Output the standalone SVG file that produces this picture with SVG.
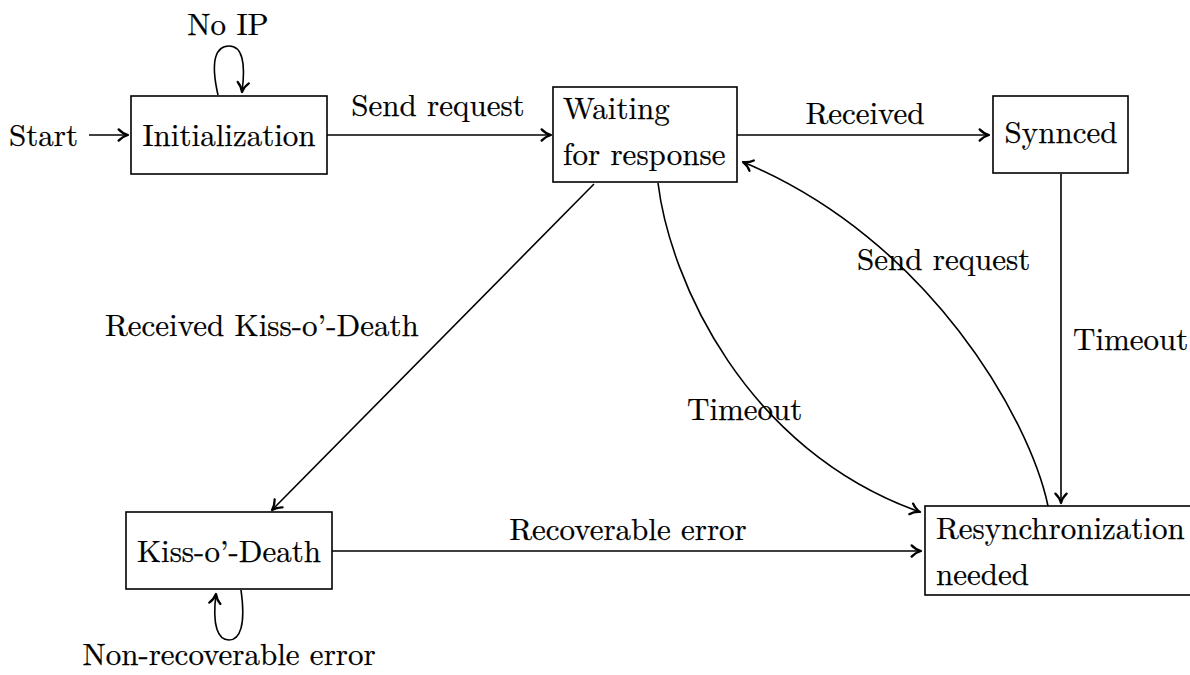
<svg xmlns="http://www.w3.org/2000/svg" width="1190" height="675" viewBox="0 0 1190 675">
<defs>
<style>
text{font-family:'Latin Modern Roman','DejaVu Serif',serif;font-size:31px;fill:#000;stroke:#000;stroke-width:0.25}
.box{fill:#fff;stroke:#000;stroke-width:1.6}
.c{text-anchor:middle}
.edge{fill:none;stroke:#000;stroke-width:1.6;marker-end:url(#arr)}
</style>
<marker id="arr" markerUnits="userSpaceOnUse" markerWidth="20" markerHeight="20" viewBox="-12 -8 16 16" refX="0" refY="0" orient="auto">
<path d="M-7.5,-4.5 C-5,-1.8 -2,-0.5 0,0 C-2,0.5 -5,1.8 -7.5,4.5" fill="none" stroke="#000" stroke-width="1.8" stroke-linecap="round" stroke-linejoin="round"/>
</marker>
</defs>
<rect width="1190" height="675" fill="#fff"/>
<g id="connectors">
<line class="edge" x1="89" y1="135" x2="128" y2="135"/>
<path class="edge" d="M218,95 C210,60 216,46 229,46 C242,46 246,62 242,92"/>
<line class="edge" x1="327" y1="135" x2="551" y2="135"/>
<line class="edge" x1="737" y1="135" x2="989" y2="135"/>
<line class="edge" x1="594" y1="184" x2="272" y2="510"/>
<path class="edge" d="M658,183 C670,280 745,450 920,512"/>
<path class="edge" d="M1048,506 C1030,420 930,240 743,162"/>
<line class="edge" x1="1061" y1="174" x2="1061" y2="503"/>
<line class="edge" x1="332" y1="551" x2="921" y2="551"/>
<path class="edge" d="M241,590 C246,625 240,640 229,640 C218,640 212,626 216,594"/>
</g>
<g id="labels">
<text x="43.5" y="146" class="c">Start</text>
<text x="228" y="35" class="c">No IP</text>
<text x="438" y="116" class="c">Send request</text>
<text x="865" y="124" class="c">Received</text>
<text x="105" y="336">Received Kiss-o’-Death</text>
<text x="857" y="270">Send request</text>
<text x="687" y="420">Timeout</text>
<text x="1073" y="350">Timeout</text>
<text x="628" y="540" class="c">Recoverable error</text>
<text x="229" y="665" class="c">Non-recoverable error</text>
</g>
<g id="initialization">
<rect class="box" x="131" y="96" width="196" height="78"/>
<text x="229" y="146" class="c">Initialization</text>
</g>
<g id="waiting">
<rect class="box" x="553" y="87" width="184" height="95"/>
<text x="563" y="119">Waiting</text>
<text x="563" y="165">for response</text>
</g>
<g id="synced">
<rect class="box" x="993" y="96" width="135" height="77"/>
<text x="1061" y="143" class="c">Synnced</text>
</g>
<g id="kiss">
<rect class="box" x="126" y="512" width="206" height="77"/>
<text x="229" y="562" class="c">Kiss-o’-Death</text>
</g>
<g id="resync">
<rect class="box" x="925" y="506" width="280" height="89"/>
<text x="936" y="539">Resynchronization</text>
<text x="936" y="585">needed</text>
</g>
</svg>
